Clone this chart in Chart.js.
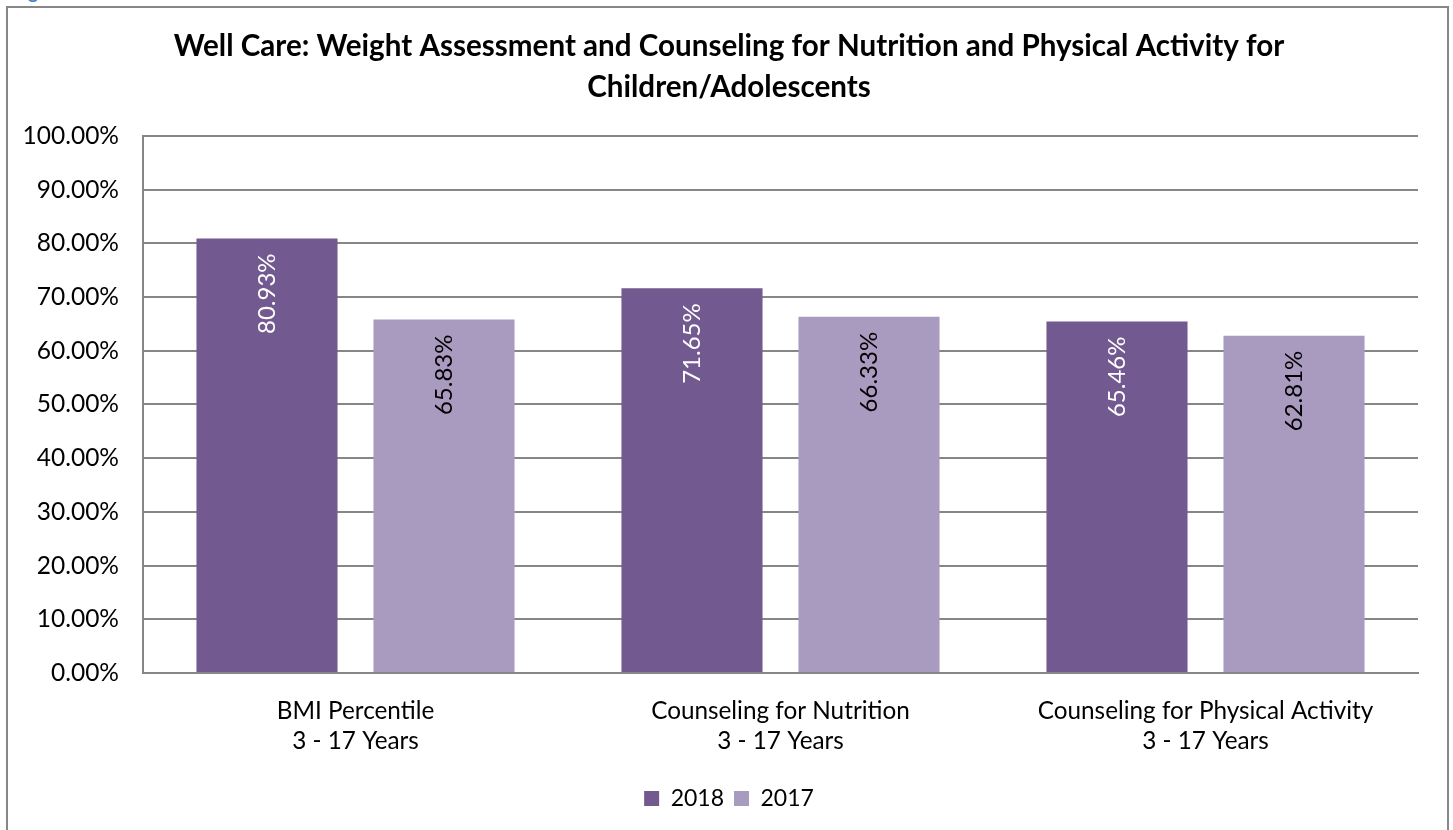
<!DOCTYPE html>
<html>
<head>
<meta charset="utf-8">
<script src="https://cdn.jsdelivr.net/npm/chart.js@4"></script>
<style>
  body { margin: 0; background: #fff; overflow: hidden; }
  #cap { position: absolute; left: 12px; top: -20px; color: #4f81bd; font: bold 19px Lato, sans-serif; }
  #box { position: absolute; left: 6px; top: 6px; width: 1439px; height: 840px; border: 2px solid #878787; }
  #wrap { position: absolute; left: 8px; top: 8px; width: 1442px; height: 822px; }
</style>
</head>
<body>
<div id="cap">Figure</div>
<div id="box"></div>
<div id="wrap"><canvas id="chart"></canvas></div>
<script>
// data
const categories = [
  ['BMI Percentile', '3 - 17 Years'],
  ['Counseling for Nutrition', '3 - 17 Years'],
  ['Counseling for Physical Activity', '3 - 17 Years']
];
const values2018 = [80.93, 71.65, 65.46];
const values2017 = [65.83, 66.33, 62.81];
const seriesNames = ['2018', '2017'];

const font = 'Lato';

// put the cut-off caption so its "g" sits where the reference has it
let m = document.createElement('canvas').getContext('2d');
m.font = 'bold 19px Lato';
document.getElementById('cap').style.left = (28 - m.measureText('Fi').width) + 'px';

// labels drawn sideways inside the top of each bar
const barLabels = {
  id: 'barLabels',
  afterDatasetsDraw(chart) {
    const ctx = chart.ctx;
    chart.data.datasets.forEach((ds, i) => {
      let meta = chart.getDatasetMeta(i);
      meta.data.forEach((bar, j) => {
        ctx.save();
        ctx.translate(bar.x, bar.y + 15);
        ctx.rotate(-Math.PI / 2);
        ctx.font = '24px ' + font;
        ctx.fillStyle = i == 0 ? '#ffffff' : '#000000';
        ctx.textAlign = 'right';
        ctx.textBaseline = 'middle';
        ctx.fillText(ds.data[j].toFixed(2) + '%', 0, 0);
        ctx.restore();
      });
    });
  }
};

const ctx = document.getElementById('chart');

new Chart(ctx, {
  type: 'bar',
  data: {
    labels: categories,
    datasets: [{
      label: seriesNames[0],
      data: values2018,
      backgroundColor: '#72598f',
      categoryPercentage: 0.833,
      barPercentage: 0.797
    }, {
      label: seriesNames[1],
      data: values2017,
      backgroundColor: '#a99bbf',
      categoryPercentage: 0.833,
      barPercentage: 0.797
    }]
  },
  options: {
    responsive: true,
    maintainAspectRatio: false,
    animation: false,
    layout: { padding: { left: 0, right: 0, top: 0, bottom: 10 } },
    plugins: {
      title: {
        display: true,
        text: ['Well Care: Weight Assessment and Counseling for Nutrition and Physical Activity for', 'Children/Adolescents'],
        color: '#000',
        font: { family: font, size: 29.6, weight: 'bold', lineHeight: 1.385 },
        padding: { top: 18, bottom: 28 }
      },
      legend: {
        position: 'bottom',
        labels: {
          color: '#000',
          font: { family: font, size: 23 },
          boxWidth: 15,
          boxHeight: 15,
          padding: 10
        }
      },
      tooltip: { enabled: false }
    },
    scales: {
      x: {
        grid: { display: false, drawTicks: false },
        border: { display: true, color: '#868686', width: 2 },
        ticks: { color: '#000', font: { family: font, size: 24.3, lineHeight: 1.2 }, padding: 24 },
        afterFit(scale) { scale.height = 104; }
      },
      y: {
        min: 0,
        max: 100,
        ticks: {
          stepSize: 10,
          color: '#000',
          font: { family: font, size: 24.5 },
          padding: 24,
          callback: v => v.toFixed(2) + '%'
        },
        grid: { color: '#868686', lineWidth: 2, drawTicks: false },
        border: { display: true, color: '#868686', width: 2 },
        afterFit(scale) { scale.width = 135; }
      },
      // empty axis on the right, only there to leave white space like the original
      yRight: {
        position: 'right',
        min: 0,
        max: 100,
        grid: { display: false, drawTicks: false },
        border: { display: false },
        ticks: { display: false },
        afterFit(scale) { scale.width = 32; }
      }
    }
  },
  plugins: [barLabels]
});
</script>
</body>
</html>
